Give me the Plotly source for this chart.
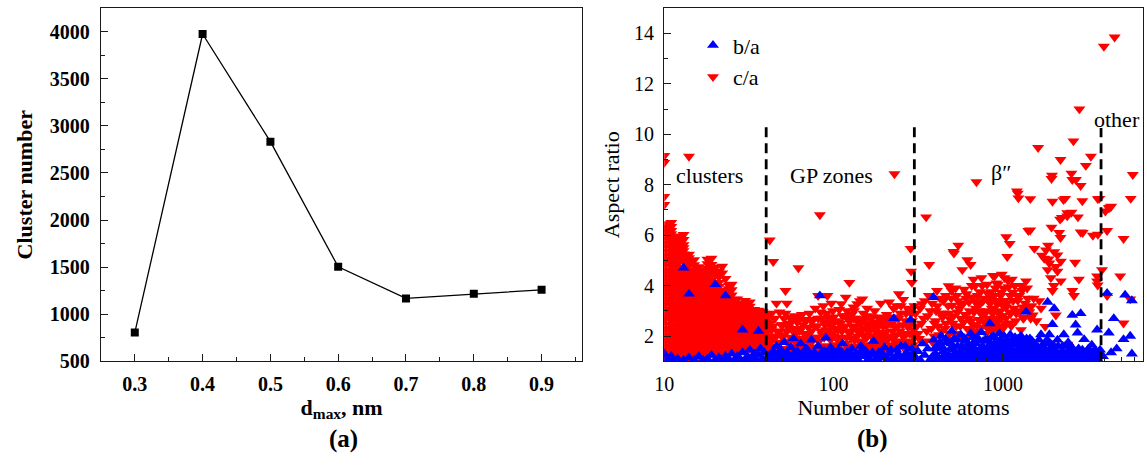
import plotly.graph_objects as go

# ---------------- Panel (a) data ----------------
dmax = [0.3, 0.4, 0.5, 0.6, 0.7, 0.8, 0.9]
cluster_number = [805, 3975, 2832, 1504, 1168, 1217, 1259]

# ---------------- Panel (b) data ----------------
# c/a values in the "clusters" range, grouped by cluster size (number of solute atoms)
ca_clusters = [
    (10, [1.18, 1.46, 1.77, 2.02, 2.31, 2.63, 2.88, 3.21, 3.47, 3.76, 4.04, 4.33, 4.61, 4.92, 5.18, 5.52, 5.83, 6.16, 6.45, 7.21, 7.53, 8.88, 9.15]),
    (11, [1.27, 1.58, 1.86, 2.17, 2.44, 2.76, 3.03, 3.34, 3.62, 3.91, 4.18, 4.47, 4.76, 5.04, 5.33, 5.64, 5.92, 6.18, 6.34, 6.5]),
    (12, [1.12, 1.41, 1.69, 1.98, 2.29, 2.57, 2.86, 3.14, 3.43, 3.72, 4.01, 4.28, 4.58, 4.87, 5.16, 5.42, 5.71, 5.96]),
    (13, [1.31, 1.62, 1.91, 2.18, 2.49, 2.79, 3.08, 3.38, 3.66, 3.97, 4.24, 4.52, 5.11, 5.38, 5.62, 6.02]),
    (14, [1.16, 1.44, 1.73, 2.06, 2.34, 2.64, 2.93, 3.24, 3.52, 3.83, 4.12, 4.41, 4.96, 5.24, 9.12]),
    (15, [1.33, 1.61, 1.89, 2.21, 2.52, 2.81, 3.11, 3.39, 3.71, 3.98, 4.29, 4.62, 5.02]),
    (16, [1.21, 1.52, 1.79, 2.12, 2.39, 2.68, 3.01, 3.29, 3.58, 3.89, 4.17, 4.48, 4.74]),
    (17, [1.36, 1.66, 1.94, 2.26, 2.57, 2.84, 3.16, 3.46, 3.77, 4.06, 4.44]),
    (18, [1.22, 1.49, 1.81, 2.09, 2.42, 2.71, 2.98, 3.31, 3.62, 3.93, 4.31, 4.68, 5.04]),
    (19, [1.34, 1.63, 1.92, 2.23, 2.51, 2.82, 3.12, 3.43, 3.69, 4.02, 4.43, 4.83, 5.08]),
    (20, [1.19, 1.51, 1.82, 2.11, 2.38, 2.69, 3.02, 3.32, 3.61, 3.88, 4.44, 4.72]),
    (21, [1.41, 1.72, 2.01, 2.32, 2.61, 2.91, 3.22, 3.52, 3.81, 4.12, 4.56]),
    (22, [1.26, 1.56, 1.87, 2.16, 2.46, 2.74, 3.06, 3.36, 3.79, 4.76]),
    (23, [1.47, 1.76, 2.04, 2.36, 2.66, 2.96, 3.26, 4.28]),
    (24, [1.32, 1.61, 1.91, 2.21, 2.51, 2.79, 3.11, 3.41, 3.72, 4.02]),
    (25, [1.52, 1.81, 2.12, 2.41, 2.71, 3.01, 3.29, 3.62, 4.05]),
    (26, [1.37, 1.66, 1.96, 2.26, 2.56, 2.86, 3.16, 3.46]),
    (27, [1.56, 1.86, 2.14, 2.46, 2.76, 3.04, 3.47]),
    (28, [1.42, 1.71, 2.02, 2.31, 2.61, 2.91, 3.24]),
    (29, [1.61, 1.91, 2.22, 2.52, 2.81, 3.12]),
    (30, [1.46, 1.76, 2.06, 2.36, 2.66, 2.94, 3.41]),
    (32, [1.51, 1.82, 2.11, 2.41, 2.72, 3.02, 3.35]),
    (34, [1.41, 1.72, 2.01, 2.32, 2.62, 2.91]),
    (36, [1.62, 1.91, 2.21, 2.52, 2.81, 3.02]),
    (38, [1.46, 1.76, 2.06, 2.36, 2.66, 2.96]),
    (40, [1.36, 1.66, 1.96, 2.26, 2.56, 2.82]),
]

# further c/a values in the dense "clusters" cloud
ca_clusters_more = [
    (10, [1.32, 1.61, 1.9, 2.17, 2.47, 2.75, 3.05, 3.34, 3.62, 3.9, 4.19, 4.47, 4.77, 5.05, 5.35, 5.68, 6.0, 6.3]),
    (11, [1.42, 1.72, 2.01, 2.3, 2.6, 2.9, 3.19, 3.48, 3.77, 4.05, 4.33, 4.62, 4.9, 5.19, 5.48, 5.78, 6.05]),
    (12, [1.26, 1.55, 1.84, 2.13, 2.43, 2.72, 3.0, 3.29, 3.58, 3.87, 4.15, 4.43, 4.73, 5.02, 5.29, 5.57, 5.84]),
    (13, [1.46, 1.77, 2.05, 2.34, 2.64, 2.94, 3.23, 3.52, 3.82, 4.11, 4.38, 4.97, 5.25, 5.5, 5.82]),
    (14, [1.3, 1.59, 1.9, 2.2, 2.49, 2.79, 3.09, 3.38, 3.98, 4.27, 4.56, 4.8, 5.1]),
    (15, [1.47, 1.75, 2.05, 2.37, 2.67, 2.96, 3.25, 3.55, 3.85, 4.14, 4.46, 4.82]),
    (16, [1.36, 1.66, 1.96, 2.26, 2.54, 2.85, 3.15, 3.44, 3.74, 4.03, 4.33, 4.61]),
    (17, [1.51, 1.8, 2.1, 2.42, 2.71, 3.0, 3.31, 3.62, 3.92, 4.25, 4.62]),
    (18, [1.36, 1.65, 1.95, 2.26, 2.57, 2.85, 3.15, 3.47, 3.78, 4.12, 4.5, 4.86]),
    (19, [1.49, 1.78, 2.08, 2.37, 2.67, 2.97, 3.28, 3.56, 3.86, 4.22, 4.64]),
    (20, [1.35, 1.67, 1.97, 2.25, 2.54, 2.86, 3.17, 3.47, 3.75, 4.58]),
    (21, [1.56, 1.87, 2.17, 2.47, 2.76, 3.07, 3.37, 3.67, 3.96, 4.34]),
    (22, [1.41, 1.72, 2.02, 2.31, 2.6, 2.9, 3.21, 3.58, 4.5]),
    (23, [1.62, 1.9, 2.2, 2.51, 2.81, 3.11, 3.42, 3.8]),
    (24, [1.46, 1.76, 2.06, 2.36, 2.65, 2.95, 3.26, 3.56, 3.87]),
    (25, [1.66, 1.96, 2.27, 2.56, 2.86, 3.15, 3.45, 3.83]),
    (26, [1.52, 1.81, 2.11, 2.41, 2.71, 3.01, 3.31]),
    (27, [1.7, 2.0, 2.3, 2.61, 2.9, 3.25]),
    (28, [1.56, 1.86, 2.16, 2.46, 2.76, 3.07]),
    (29, [1.76, 2.06, 2.37, 2.66, 2.96, 3.3]),
    (30, [1.61, 1.91, 2.21, 2.51, 2.8, 3.15]),
    (31, [1.55, 1.85, 2.15, 2.45, 2.75, 3.05, 3.3]),
    (32, [1.66, 1.96, 2.26, 2.56, 2.87, 3.18]),
    (33, [1.5, 1.8, 2.1, 2.4, 2.7, 3.0]),
    (34, [1.56, 1.86, 2.16, 2.47, 2.77, 3.05]),
    (35, [1.45, 1.75, 2.05, 2.35, 2.65, 2.95]),
    (36, [1.76, 2.06, 2.36, 2.66, 2.9]),
    (37, [1.55, 1.85, 2.15, 2.45, 2.75, 2.98]),
    (38, [1.61, 1.91, 2.21, 2.51, 2.81]),
    (39, [1.5, 1.8, 2.1, 2.4, 2.7, 2.9]),
    (40, [1.51, 1.81, 2.11, 2.41, 2.68]),
]

# c/a points (size, ratio) in the GP-zone range
ca_gp = [
    (42, 5.8), (44, 4.95), (46, 3.3), (48, 2.95), (53, 3.3), (52, 3.8), (56, 2.75), (62, 4.7), (83, 6.8),
    (124, 4.12), (229, 8.43), (285, 5.47), (290, 4.12), (287, 4.57), (92, 3.6), (118, 3.54), (148, 3.47),
    (138, 3.28), (111, 3.28), (194, 2.7), (226, 3.1), (250, 3.2), (280, 3.0), (132, 2.7), (99, 2.57), (243, 3.67),
    (41, 1.3), (41, 2.0), (42, 2.5), (43, 1.6), (43, 2.25), (44, 1.9), (45, 2.7), (45, 1.4), (47, 2.15),
    (47, 1.75), (49, 2.45), (49, 1.5), (50, 1.95), (51, 2.7), (52, 1.3), (53, 2.2), (54, 1.7), (55, 2.5),
    (56, 1.95), (57, 1.4), (58, 2.3), (59, 2.8), (60, 1.75), (60, 2.1), (61, 2.55), (62, 1.3), (63, 1.9),
    (64, 2.3), (65, 2.85), (66, 1.6), (67, 2.1), (68, 2.6), (70, 1.45), (70, 1.9), (71, 2.35), (72, 2.9),
    (73, 1.7), (74, 2.2), (75, 1.25), (76, 2.65), (77, 1.95), (78, 3.1), (79, 1.5), (80, 2.4), (81, 3.6),
    (82, 1.8), (84, 2.2), (85, 2.7), (86, 1.35), (87, 3.2), (88, 1.95), (89, 2.45), (90, 1.6), (91, 2.9),
    (93, 2.2), (94, 1.4), (95, 2.6), (96, 1.85), (97, 3.3), (98, 2.1), (100, 1.55), (100, 2.75),
    (102, 2.3), (104, 1.3), (105, 1.9), (107, 2.55), (108, 3.05), (110, 1.7), (112, 2.2), (113, 2.8),
    (115, 1.45), (116, 2.4), (119, 1.95), (120, 3.0), (122, 2.65), (123, 1.6), (126, 2.15), (128, 2.85),
    (129, 1.35), (131, 3.15), (133, 1.85), (135, 2.4), (137, 2.0), (140, 1.5), (141, 2.6), (143, 3.4),
    (145, 1.75), (147, 2.25), (150, 2.9), (152, 1.3), (154, 1.95), (156, 2.5), (158, 3.1), (160, 1.6),
    (163, 2.2), (165, 2.7), (168, 1.45), (170, 2.0), (172, 2.45), (175, 3.0), (178, 1.7), (180, 2.3),
    (183, 2.75), (186, 1.4), (188, 2.05), (190, 3.3), (193, 1.8), (196, 2.4), (200, 1.55), (203, 2.15),
    (206, 2.85), (210, 1.9), (213, 3.35), (216, 2.5), (220, 1.45), (223, 2.2), (227, 2.75), (232, 1.75),
    (236, 3.2), (240, 2.4), (245, 1.6), (248, 2.9), (253, 2.05), (258, 3.45), (262, 1.5), (266, 2.6),
    (270, 2.1), (275, 3.1), (278, 1.8), (283, 2.45), (288, 2.9), (293, 1.65), (297, 2.25), (300, 3.2),
]

ca_gp_more = [
    (41, 2.6), (42, 1.75), (43, 2.9), (44, 1.45), (44, 2.4), (46, 2.0), (46, 1.55), (48, 2.2), (48, 1.3),
    (50, 2.45), (50, 1.5), (51, 2.05), (52, 2.9), (54, 2.35), (54, 1.35), (55, 1.8), (57, 2.6), (58, 1.6),
    (59, 2.1), (61, 1.5), (62, 2.75), (63, 2.2), (65, 1.45), (66, 2.45), (67, 1.8), (69, 2.65), (69, 1.3),
    (71, 2.05), (72, 1.55), (74, 2.6), (75, 1.85), (77, 2.4), (78, 1.4), (80, 1.95), (81, 2.7), (83, 1.55),
    (84, 2.95), (86, 2.05), (87, 1.6), (88, 2.55), (90, 2.25), (92, 1.45), (93, 2.75), (95, 1.95), (96, 2.4),
    (98, 1.55), (99, 3.0), (101, 2.0), (103, 2.6), (104, 1.65), (106, 2.25), (108, 1.45), (110, 2.5),
    (111, 1.95), (114, 2.3), (117, 1.7), (118, 2.8), (121, 2.2), (124, 1.5), (125, 2.6), (127, 1.9),
    (130, 2.35), (132, 3.0), (134, 1.6), (136, 2.7), (139, 2.2), (142, 1.8), (144, 2.45), (146, 1.4),
    (149, 2.05), (151, 2.65), (153, 1.65), (155, 2.3), (157, 1.95), (159, 2.8), (162, 1.5), (164, 2.45),
    (167, 2.0), (169, 2.75), (171, 1.6), (174, 2.25), (177, 2.55), (179, 1.9), (182, 1.55), (184, 2.5),
    (187, 2.15), (189, 1.75), (191, 2.7), (195, 2.0), (198, 2.6), (201, 1.8), (205, 2.4), (208, 1.5),
    (211, 2.7), (214, 2.0), (218, 1.65), (221, 2.5), (225, 1.9), (229, 2.4), (234, 2.05), (238, 1.5),
    (242, 2.7), (247, 2.2), (250, 1.8), (256, 2.45), (260, 2.0), (264, 1.6), (268, 2.9), (272, 1.7),
    (276, 2.35), (281, 2.1), (285, 1.75), (290, 2.6), (295, 2.0), (298, 1.55),
]

# c/a points in the beta'' range
ca_beta = [
    (352, 6.72), (367, 4.83), (408, 3.8), (478, 3.99), (501, 3.22), (511, 5.35), (514, 5.28), (533, 3.6),
    (545, 5.6), (576, 4.63), (610, 3.67), (617, 5.02), (645, 4.83), (685, 3.99), (698, 8.11), (714, 3.22),
    (747, 4.31), (806, 4.05), (818, 3.41), (874, 4.4), (935, 4.05), (333, 3.28), (310, 2.4), (320, 1.9),
    (340, 2.7), (355, 2.2), (372, 3.0), (385, 1.75), (395, 2.5), (420, 2.05), (430, 2.9), (445, 3.4),
    (455, 2.3), (470, 1.85), (490, 2.65), (520, 2.1), (540, 2.95), (560, 2.4), (580, 3.3), (595, 1.9),
    (625, 2.7), (640, 2.25), (660, 3.55), (675, 2.95), (700, 2.45), (730, 3.75), (760, 2.8), (780, 3.5),
    (795, 2.1), (830, 2.6), (850, 3.75), (860, 3.1), (890, 2.5), (905, 3.9), (920, 2.25), (950, 3.35),
    (965, 2.8), (400, 2.6), (410, 3.2), (440, 2.75), (460, 3.6), (480, 2.9), (495, 3.5), (505, 2.5),
    (525, 3.9), (550, 3.1), (565, 2.7), (590, 3.85), (600, 2.85), (630, 3.35), (650, 2.6), (670, 4.25),
    (690, 3.1), (720, 2.65), (740, 3.3), (755, 4.0), (775, 2.55), (800, 3.0), (815, 2.3), (840, 3.3),
    (870, 2.9), (880, 3.6), (910, 3.35), (940, 2.6), (960, 3.0), (985, 4.45), (990, 3.25),
    (979, 3.73), (1000, 2.3), (1023, 4.31), (1023, 3.41), (1047, 5.93), (1047, 3.15), (1061, 5.15),
    (1098, 5.67), (1098, 2.51), (1113, 2.9), (1130, 4.25), (1146, 3.73), (1224, 7.66), (1235, 7.47),
    (1210, 7.75), (1224, 3.41), (1279, 2.25), (1295, 3.8), (1313, 3.15), (1370, 4.18), (1413, 6.18),
    (1433, 2.96), (1452, 7.44), (1450, 6.2), (1500, 2.83), (1535, 5.47), (894, 4.38), (894, 3.41),
    (957, 2.96), (1040, 2.7), (1080, 3.95), (1160, 3.1), (1190, 2.6), (1250, 3.6), (1340, 2.75),
    (1400, 3.5), (1480, 3.2), (1615, 9.47), (1796, 5.41), (1755, 5.08), (1838, 4.63), (1880, 4.89),
    (1920, 4.31), (1937, 8.24), (1937, 6.31), (1950, 8.37), (1963, 7.34), (1963, 3.8), (2010, 5.34),
    (2055, 2.83), (2100, 5.21), (2100, 4.57), (2150, 6.1), (2178, 6.63), (2190, 8.99), (2190, 5.9),
    (2200, 4.96), (2200, 4.18), (2230, 6.7), (2279, 7.4), (2330, 7.45), (2400, 6.88), (2400, 6.76),
    (2400, 1.67), (2540, 8.45), (2540, 6.9), (2570, 8.2), (2570, 3.8), (2610, 9.73), (2630, 3.6),
    (2670, 4.92), (2700, 8.2), (2775, 6.72), (2813, 4.25), (2830, 11.0), (2880, 7.96), (2880, 6.12),
    (2946, 7.36), (2960, 6.1), (3090, 8.76), (3310, 9.12), (3400, 5.99), (3600, 4.38), (3600, 4.18),
    (3630, 4.02), (3640, 6.03), (3634, 7.44), (3710, 7.45), (1778, 2.38), (1680, 3.1), (1700, 5.2),
    (1850, 5.6), (2000, 4.0), (1860, 5.05), (2050, 4.75),
]

ca_beta_more = [
    (305, 2.9), (315, 2.1), (325, 3.1), (330, 2.5), (345, 3.4), (350, 1.8), (360, 2.8), (365, 3.6),
    (378, 2.3), (382, 3.3), (392, 2.0), (403, 3.0), (415, 2.4), (425, 3.5), (435, 2.2), (450, 2.9),
    (462, 2.5), (475, 3.2), (485, 2.1), (498, 3.8), (510, 2.8), (530, 2.4), (545, 3.4), (555, 2.0),
    (570, 3.2), (585, 2.55), (605, 3.5), (615, 2.3), (635, 3.0), (655, 4.0), (665, 2.45), (680, 3.4),
    (695, 2.2), (710, 3.6), (725, 3.0), (745, 2.35), (765, 3.4), (785, 2.9), (810, 3.7), (825, 2.7),
    (845, 2.25), (865, 3.5), (885, 3.1), (900, 2.7), (915, 4.1), (930, 3.3), (945, 2.4), (970, 3.6),
    (995, 2.8), (1010, 3.9), (1030, 2.5), (1055, 3.3), (1070, 4.2), (1090, 2.95), (1105, 3.6),
    (1120, 2.4), (1150, 3.4), (1175, 4.0), (1200, 2.9), (1215, 3.6), (1260, 3.0), (1285, 4.0),
    (1320, 2.7), (1355, 3.3), (1390, 3.9), (1420, 3.1), (1460, 2.7), (1520, 3.5), (1580, 2.6), (1640, 3.4),
]

# c/a points beyond the beta'' range ("other")
ca_other = [
    (3850, 4.63), (3950, 13.48), (4030, 6.95), (4125, 6.18), (4125, 3.6), (4220, 7.08), (4280, 7.1),
    (4360, 7.14), (4570, 13.85), (4930, 4.38), (5160, 5.86), (5160, 2.51), (5650, 3.47), (5690, 7.45),
    (5850, 8.4),
]

# b/a points
ba_clusters = [
    (10, 1.1), (10, 1.3), (11, 1.05), (11, 1.2), (12, 1.1), (13, 1.05), (13, 4.7), (14, 1.15), (14, 3.67),
    (15, 1.05), (16, 1.2), (17, 1.05), (18, 1.1), (19, 1.25), (20, 1.05), (20, 4.05), (21, 1.15), (22, 1.05),
    (23, 3.6), (23, 1.2), (24, 1.1), (25, 1.3), (26, 1.05), (27, 1.2), (28, 1.1), (29, 1.35), (29, 2.25),
    (30, 1.05), (31, 1.2), (32, 1.45), (33, 1.1), (34, 1.3), (35, 1.05), (36, 2.2), (36, 1.25), (37, 1.5),
    (38, 1.1), (39, 1.35), (40, 1.05),
]

ba_gp = [
    (41, 1.1), (42, 1.25), (43, 1.05), (44, 1.4), (45, 1.15), (46, 1.6), (47, 1.3), (48, 1.08), (49, 1.45),
    (50, 1.2), (51, 1.75), (52, 1.1), (53, 1.35), (55, 1.05), (56, 1.55), (57, 1.2), (58, 1.9), (60, 1.1),
    (61, 1.4), (63, 1.15), (64, 1.7), (66, 1.05), (67, 1.3), (69, 1.5), (70, 1.1), (72, 1.25), (74, 1.85),
    (75, 1.08), (77, 1.35), (79, 1.15), (81, 1.6), (83, 3.6), (84, 1.2), (86, 1.05), (88, 1.4), (90, 1.93),
    (91, 1.1), (93, 1.3), (96, 1.55), (98, 1.15), (101, 1.25), (104, 1.05), (107, 1.45), (110, 1.2),
    (113, 1.7), (116, 1.1), (120, 1.35), (124, 1.05), (128, 1.5), (132, 1.15), (136, 1.3), (140, 1.05),
    (145, 1.6), (150, 1.2), (155, 1.4), (160, 1.08), (166, 1.25), (172, 1.8), (178, 1.1), (185, 1.35),
    (192, 1.15), (200, 1.55), (208, 1.05), (215, 1.3), (222, 1.1), (227, 2.7), (235, 1.45), (245, 1.2),
    (255, 1.05), (265, 1.6), (275, 1.15), (285, 2.64), (292, 1.3),
    (44, 1.05), (46, 1.2), (50, 1.05), (54, 1.25), (59, 1.35), (62, 1.05), (65, 1.3), (68, 1.15),
    (71, 1.4), (76, 1.2), (80, 1.05), (85, 1.35), (89, 1.15), (95, 1.05), (100, 1.4), (105, 1.15),
    (112, 1.35), (118, 1.2), (126, 1.3), (134, 1.05), (142, 1.25), (148, 1.45), (158, 1.2), (170, 1.35),
    (182, 1.05), (195, 1.3), (205, 1.15), (218, 1.45), (230, 1.05), (240, 1.3), (250, 1.6), (260, 1.15),
    (270, 1.35), (280, 1.05), (290, 1.5), (298, 1.2),
]

ba_beta = [
    (305, 1.15), (315, 1.4), (325, 1.05), (335, 1.7), (345, 1.25), (360, 1.5), (375, 1.1), (389, 3.54),
    (390, 1.85), (400, 1.3), (410, 1.6), (420, 1.05), (432, 2.0), (445, 1.4), (455, 1.15), (465, 1.75),
    (478, 1.25), (490, 1.5), (500, 2.2), (505, 1.05), (515, 1.9), (525, 1.35), (540, 1.6), (550, 1.1),
    (565, 2.05), (575, 1.45), (590, 1.2), (605, 1.8), (615, 1.05), (630, 1.55), (645, 2.1), (660, 1.3),
    (672, 1.75), (685, 1.1), (700, 1.95), (715, 1.4), (730, 1.2), (745, 2.15), (760, 1.6), (775, 1.05),
    (790, 1.85), (805, 1.35), (820, 1.15), (837, 2.5), (850, 1.7), (865, 1.25), (880, 2.0), (895, 1.5),
    (910, 1.1), (925, 1.8), (940, 1.35), (955, 2.1), (970, 1.2), (985, 1.65), (1000, 1.05), (1015, 2.0),
    (1030, 1.45), (1045, 1.25), (1060, 1.85), (1075, 1.1), (1090, 1.6), (1105, 2.05), (1120, 1.3),
    (1140, 1.75), (1160, 1.15), (1180, 1.95), (1200, 1.4), (1220, 1.05), (1240, 1.7), (1260, 1.25),
    (1280, 2.0), (1300, 1.5), (1320, 1.1), (1345, 1.8), (1370, 2.96), (1370, 1.3), (1395, 1.6),
    (1420, 1.05), (1445, 1.9), (1470, 1.35), (1500, 1.15), (1530, 1.7), (1560, 1.25), (1590, 1.05),
    (1620, 1.55), (1650, 1.2), (1680, 2.06), (1710, 1.4), (1745, 1.1), (1780, 1.75), (1815, 1.3),
    (1838, 3.35), (1850, 1.05), (1880, 2.06), (1900, 1.5), (1940, 1.2), (1963, 2.47), (1980, 1.65),
    (2010, 3.09), (2020, 1.1), (2060, 1.4), (2100, 1.85), (2150, 1.25), (2200, 1.05), (2250, 1.6),
    (2290, 2.06), (2330, 1.3), (2380, 1.1), (2430, 1.75), (2480, 1.45), (2530, 1.15), (2570, 2.83),
    (2600, 1.35), (2690, 2.45), (2700, 1.05), (2760, 2.13), (2800, 1.5), (2880, 2.9), (2900, 1.2),
    (3020, 1.87), (3050, 1.05), (3150, 1.4), (3250, 1.15), (3350, 1.65), (3450, 1.1), (3550, 1.3),
    (3600, 2.25), (3650, 1.05), (3750, 1.45), (385, 1.2), (440, 1.55), (470, 1.05), (520, 1.25),
    (560, 1.4), (600, 1.15), (640, 1.35), (680, 1.5), (720, 1.05), (770, 1.3), (810, 1.55), (860, 1.05),
    (900, 1.3), (960, 1.45), (1010, 1.2), (1070, 1.4), (1130, 1.05), (1190, 1.25), (1250, 1.5),
    (1330, 1.2), (1400, 1.45), (1480, 1.15), (1550, 1.45), (1640, 1.35), (1760, 1.25), (1920, 1.35),
    (2080, 1.2), (2270, 1.35), (2450, 1.25), (2650, 1.2), (2850, 1.3), (3100, 1.25), (3400, 1.35),
    (3700, 1.2),
]

ba_beta_more = [
    (395, 1.5), (415, 1.15), (425, 1.75), (450, 1.25), (460, 1.9), (485, 1.1), (495, 1.7), (510, 1.45),
    (530, 1.05), (535, 1.85), (545, 1.3), (570, 1.6), (580, 1.05), (595, 1.9), (610, 1.3), (620, 1.65),
    (635, 1.1), (650, 1.5), (665, 1.95), (675, 1.2), (690, 1.7), (710, 1.25), (725, 1.85), (740, 1.5),
    (750, 1.1), (765, 1.8), (780, 1.45), (795, 1.2), (815, 1.85), (830, 1.4), (845, 1.1), (855, 1.95),
    (870, 1.55), (885, 1.3), (905, 1.75), (920, 1.05), (935, 1.6), (950, 1.25), (965, 1.85), (980, 1.35),
    (995, 1.75), (1020, 1.35), (1040, 1.75), (1055, 1.05), (1065, 1.55), (1085, 1.25), (1100, 1.75),
    (1115, 1.1), (1135, 1.45), (1150, 1.9), (1170, 1.35), (1195, 1.65), (1210, 1.2), (1230, 1.9),
    (1255, 1.05), (1270, 1.6), (1290, 1.3), (1310, 1.75), (1335, 1.45), (1360, 1.05), (1380, 1.9),
    (1410, 1.25), (1435, 1.55), (1460, 1.1), (1490, 1.8), (1515, 1.4), (1545, 1.05), (1575, 1.6),
    (1605, 1.3), (1635, 1.85), (1665, 1.1), (1695, 1.6), (1730, 1.3), (1770, 1.5), (1800, 1.1),
    (1830, 1.85), (1870, 1.25), (1910, 1.7), (1960, 1.1), (2000, 1.5), (2040, 1.25), (2120, 1.6),
    (2180, 1.1), (2230, 1.4), (2310, 1.15), (2360, 1.6), (2410, 1.3), (2500, 1.05), (2560, 1.55),
    (2620, 1.2), (2740, 1.35), (2830, 1.1), (2950, 1.45), (3080, 1.1), (3200, 1.5), (3300, 1.2),
    (3500, 1.45), (3580, 1.1), (3680, 1.35),
]

ba_other = [
    (4125, 3.7), (4220, 2.13), (4355, 1.35), (4520, 2.7), (5160, 1.87), (5270, 3.63), (5650, 2.0),
    (5780, 3.41), (5780, 1.3), (3900, 1.2), (4700, 1.5),
]

# region boundaries (dashed lines)
region_bounds = [40, 300, 3800]
region_line_top = [10.5, 10.5, 10.25]

# x tick labels of panel (b)
b_xticks = [10, 100, 1000]
b_xticklabels = ["10", "100", "1000"]
b_xminor = [20, 30, 40, 50, 60, 70, 80, 90, 200, 300, 400, 500, 600, 700, 800, 900,
            2000, 3000, 4000, 5000, 6000]

# ---------------- assemble ----------------
ca_n, ca_r = [], []
for cols in (ca_clusters, ca_clusters_more):
    for n, vals in cols:
        for v in vals:
            ca_n.append(n)
            ca_r.append(v)
for group in (ca_gp, ca_gp_more, ca_beta, ca_beta_more, ca_other):
    for n, v in group:
        ca_n.append(n)
        ca_r.append(v)

ba_n, ba_r = [], []
for group in (ba_clusters, ba_gp, ba_beta, ba_beta_more, ba_other):
    for n, v in group:
        ba_n.append(n)
        ba_r.append(v)

W, H = 1147, 470
SERIF = "Liberation Serif, Times New Roman, serif"
AX = "#1a1a1a"
MSIZE = 10.5

fig = go.Figure()

# Panel (a)
fig.add_trace(go.Scatter(
    x=dmax, y=cluster_number, mode="lines+markers",
    line=dict(color="black", width=1.3),
    marker=dict(symbol="square", size=8, color="black"),
    xaxis="x", yaxis="y", showlegend=False,
))

# Panel (b): c/a drawn first, b/a on top; legend keeps b/a first
fig.add_trace(go.Scatter(
    x=ca_n, y=ca_r, mode="markers", name="c/a", legendrank=2,
    marker=dict(symbol="triangle-down", size=MSIZE, color="#FF0000", line=dict(width=0)),
    xaxis="x2", yaxis="y2",
))
fig.add_trace(go.Scatter(
    x=ba_n, y=ba_r, mode="markers", name="b/a", legendrank=1,
    marker=dict(symbol="triangle-up", size=MSIZE, color="#0000FF", line=dict(width=0)),
    xaxis="x2", yaxis="y2",
))
for xb, yt in zip(region_bounds, region_line_top):
    fig.add_trace(go.Scatter(
        x=[xb, xb], y=[1, yt], mode="lines",
        line=dict(color="black", width=2.8, dash="10px,6px"),
        xaxis="x2", yaxis="y2", showlegend=False, hoverinfo="skip",
    ))

dom_y = [1 - 370 / H, 1 - 8.3 / H]

bold_tick = dict(family=SERIF, size=20, color="black", weight="bold")
bold_title = dict(family=SERIF, size=22, color="black", weight="bold")
reg_tick = dict(family=SERIF, size=20, color="black")
reg_title = dict(family=SERIF, size=22, color="black")


def label(text, xpx, ypx, font, xanchor="center"):
    return dict(text=text, x=xpx / W, y=1 - ypx / H, xref="paper", yref="paper",
                xanchor=xanchor, yanchor="middle", showarrow=False, font=font)


fig.update_layout(
    width=W, height=H,
    margin=dict(l=0, r=0, t=0, b=0),
    paper_bgcolor="white", plot_bgcolor="white",
    xaxis=dict(
        domain=[91.7 / W, 577.3 / W], range=[0.25, 0.96], anchor="y",
        tick0=0.3, dtick=0.1, tickformat=".1f",
        ticks="inside", ticklen=7, tickwidth=1.3, tickcolor=AX,
        minor=dict(ticks="inside", ticklen=4, tickwidth=1.2, tickcolor=AX, dtick=0.05, tick0=0.25),
        showline=True, linecolor=AX, linewidth=1.4, mirror=True,
        showgrid=False, zeroline=False,
        tickfont=bold_tick, ticklabelstandoff=4,
        title=dict(text="d<sub>max</sub>, nm", font=bold_title, standoff=2),
    ),
    yaxis=dict(
        domain=dom_y, range=[500, 4250], anchor="x",
        tick0=500, dtick=500,
        ticks="inside", ticklen=7, tickwidth=1.3, tickcolor=AX,
        minor=dict(ticks="inside", ticklen=4, tickwidth=1.2, tickcolor=AX, dtick=250),
        showline=True, linecolor=AX, linewidth=1.4, mirror=True,
        showgrid=False, zeroline=False,
        tickfont=bold_tick, ticklabelstandoff=6,
        title=dict(text="Cluster number", font=bold_title, standoff=10),
    ),
    xaxis2=dict(
        domain=[660 / W, 1142.7 / W], type="log", range=[1, 3.826], anchor="y2",
        tickvals=b_xticks, ticktext=b_xticklabels,
        ticks="inside", ticklen=7, tickwidth=1.3, tickcolor=AX,
        minor=dict(ticks="inside", ticklen=4, tickwidth=1.2, tickcolor=AX, tickvals=b_xminor),
        showline=True, linecolor=AX, linewidth=1.4, mirror=True,
        showgrid=False, zeroline=False,
        tickfont=reg_tick, ticklabelstandoff=4,
        title=dict(text="Number of solute atoms", font=reg_title, standoff=2),
    ),
    yaxis2=dict(
        domain=dom_y, range=[1, 15], anchor="x2",
        tick0=0, dtick=2,
        ticks="inside", ticklen=7, tickwidth=1.3, tickcolor=AX,
        minor=dict(ticks="inside", ticklen=4, tickwidth=1.2, tickcolor=AX, dtick=1),
        showline=True, linecolor=AX, linewidth=1.4, mirror=True,
        showgrid=False, zeroline=False,
        tickfont=reg_tick, ticklabelstandoff=5,
        title=dict(text="Aspect ratio", font=reg_title, standoff=8),
    ),
    legend=dict(
        x=689 / W, y=1 - 25 / H, xanchor="left", yanchor="top",
        bgcolor="rgba(0,0,0,0)", font=dict(family=SERIF, size=22, color="black"),
    ),
    annotations=[
        label("<b>(a)</b>", 336, 450, dict(family=SERIF, size=25, color="black")),
        label("<b>(b)</b>", 870, 450, dict(family=SERIF, size=25, color="black")),
        label("clusters", 705.3, 180, reg_title),
        label("GP zones", 829, 179.5, reg_title),
        label("β″", 1000, 177, reg_title),
        label("other", 1142, 122.7, reg_title, xanchor="right"),
    ],
)

# remove the default page margin so the figure fills the window exactly
fig.write_html(
    "out.html",
    config={"displayModeBar": False},
    post_script="document.body.style.margin='0';document.body.style.overflow='hidden';",
)
